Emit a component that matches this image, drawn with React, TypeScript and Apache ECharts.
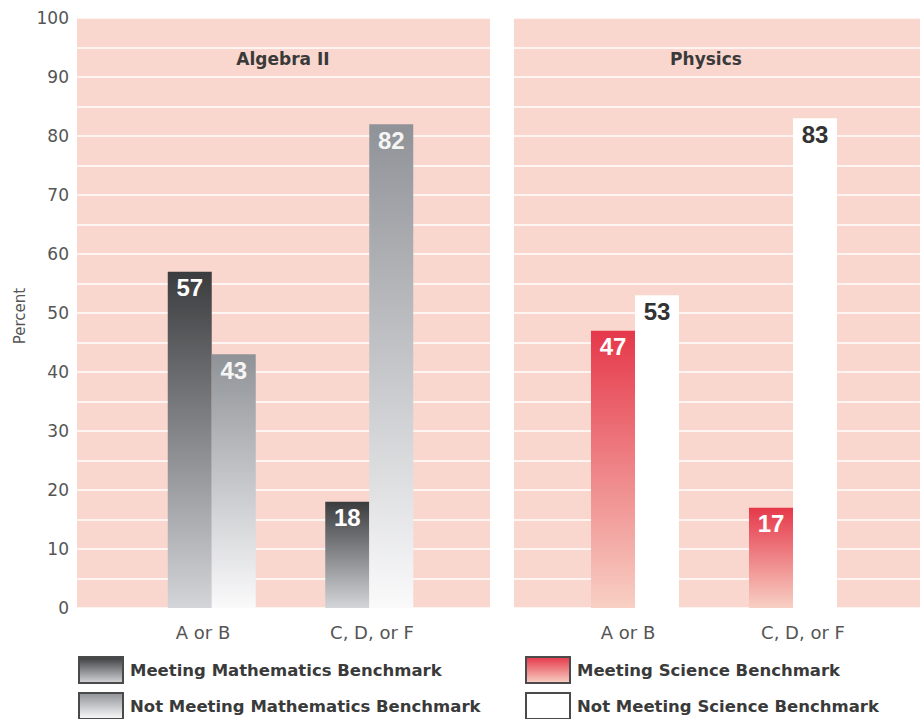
import React, { useEffect, useRef } from "react";
import * as echarts from "echarts";

const categories = ["A or B", "C, D, or F"];
const mathMeeting = [57, 18];
const mathNotMeeting = [43, 82];
const sciMeeting = [47, 17];
const sciNotMeeting = [53, 83];
const panelTitles = ["Algebra II", "Physics"];
const seriesNames = [
  "Meeting Mathematics Benchmark",
  "Not Meeting Mathematics Benchmark",
  "Meeting Science Benchmark",
  "Not Meeting Science Benchmark",
];
const yMin = 0;
const yMax = 100;
const yGridStep = 5;
const yLabelStep = 10;

const FONT = "DejaVu Sans";
const PANEL_BG = "#f9d7ce";

function grad(top: string, bottom: string) {
  return new echarts.graphic.LinearGradient(0, 0, 0, 1, [
    { offset: 0, color: top },
    { offset: 1, color: bottom },
  ]);
}

export default function App() {
  const ref = useRef<HTMLDivElement>(null);
  useEffect(() => {
    if (!ref.current) return;
    const chart = echarts.init(ref.current, null, { renderer: "svg" });

    const bgY = (showLabels: boolean, gridIndex: number) => ({
      type: "value",
      gridIndex,
      min: yMin,
      max: yMax,
      interval: yGridStep,
      axisLine: { show: false },
      axisTick: { show: false },
      splitLine: { show: true, lineStyle: { color: "#ffffff", width: 1.5 } },
      axisLabel: {
        show: showLabels,
        margin: 8,
        fontFamily: FONT,
        fontSize: 17,
        color: "#555555",
        formatter: (v: number) => (v % yLabelStep === 0 ? String(v) : ""),
      },
    });
    const hiddenY = (gridIndex: number) => ({
      type: "value",
      gridIndex,
      min: yMin,
      max: yMax,
      show: false,
    });
    const hiddenX = (gridIndex: number) => ({
      type: "category",
      gridIndex,
      data: categories,
      show: false,
    });
    const labelX = (gridIndex: number) => ({
      type: "category",
      gridIndex,
      data: categories,
      axisLine: { show: false },
      axisTick: { show: false },
      splitLine: { show: false },
      axisLabel: {
        margin: 15,
        fontFamily: FONT,
        fontSize: 18,
        color: "#555555",
      },
    });

    const valueLabel = (color: string) => ({
      show: true,
      position: "insideTop",
      distance: 4,
      fontFamily: "Liberation Sans",
      fontWeight: "bold",
      fontSize: 24,
      color,
    });

    const legendBase = {
      orient: "vertical",
      top: 656,
      height: 90,
      width: 400,
      itemWidth: 44,
      itemHeight: 26,
      itemGap: 8,
      padding: 0,
      icon: "rect",
      selectedMode: false,
      itemStyle: { borderColor: "#4a4a4a", borderWidth: 2 },
      textStyle: {
        fontFamily: FONT,
        fontWeight: "bold",
        fontSize: 16.5,
        color: "#3a3a3a",
        padding: [0, 0, 0, 2],
      },
    };

    chart.setOption({
      animation: false,
      backgroundColor: "#ffffff",
      grid: [
        { left: 77, right: 430, top: 18, bottom: 111, show: true, backgroundColor: PANEL_BG, borderWidth: 0 },
        { left: 514, right: 0, top: 18, bottom: 111, show: true, backgroundColor: PANEL_BG, borderWidth: 0 },
        { left: 133, right: 472, top: 18, bottom: 111 },
        { left: 556, right: 48, top: 18, bottom: 111 },
        { left: 118.5, right: 463.5, top: 18, bottom: 111 },
        { left: 540.5, right: 29.5, top: 18, bottom: 111 },
      ],
      xAxis: [hiddenX(0), hiddenX(1), hiddenX(2), hiddenX(3), labelX(4), labelX(5)],
      yAxis: [bgY(true, 0), bgY(false, 1), hiddenY(2), hiddenY(3), hiddenY(4), hiddenY(5)],
      legend: [
        { ...legendBase, left: 78, data: [seriesNames[0], seriesNames[1]] },
        { ...legendBase, left: 525, data: [seriesNames[2], seriesNames[3]] },
      ],
      graphic: [
        {
          type: "text",
          x: 283,
          y: 59,
          style: {
            text: panelTitles[0],
            fontFamily: FONT,
            fontWeight: "bold",
            fontSize: 17,
            fill: "#3a3a3a",
            textAlign: "center",
            textVerticalAlign: "middle",
          },
        },
        {
          type: "text",
          x: 706,
          y: 59,
          style: {
            text: panelTitles[1],
            fontFamily: FONT,
            fontWeight: "bold",
            fontSize: 17,
            fill: "#3a3a3a",
            textAlign: "center",
            textVerticalAlign: "middle",
          },
        },
        {
          type: "text",
          x: 20,
          y: 316,
          rotation: Math.PI / 2,
          style: {
            text: "Percent",
            fontFamily: FONT,
            fontSize: 15,
            fill: "#555555",
            textAlign: "center",
            textVerticalAlign: "middle",
          },
        },
      ],
      series: [
        {
          name: seriesNames[0],
          type: "bar",
          xAxisIndex: 2,
          yAxisIndex: 2,
          data: mathMeeting,
          barWidth: 44,
          barGap: "0%",
          itemStyle: { color: grad("#3b3c3e", "#d3d5d9") },
          label: valueLabel("#ffffff"),
        },
        {
          name: seriesNames[1],
          type: "bar",
          xAxisIndex: 2,
          yAxisIndex: 2,
          data: mathNotMeeting,
          barWidth: 44,
          barGap: "0%",
          itemStyle: { color: grad("#8f9297", "#fafafb") },
          label: valueLabel("#f5f5f5"),
        },
        {
          name: seriesNames[2],
          type: "bar",
          xAxisIndex: 3,
          yAxisIndex: 3,
          data: sciMeeting,
          barWidth: 44,
          barGap: "0%",
          itemStyle: { color: grad("#e5384a", "#f8d0c4") },
          label: valueLabel("#ffffff"),
        },
        {
          name: seriesNames[3],
          type: "bar",
          xAxisIndex: 3,
          yAxisIndex: 3,
          data: sciNotMeeting,
          barWidth: 44,
          barGap: "0%",
          itemStyle: { color: "#ffffff" },
          label: valueLabel("#333333"),
        },
      ],
    });
    return () => chart.dispose();
  }, []);
  return (
    <div
      ref={ref}
      style={{ position: "fixed", left: 0, top: 0, width: 920, height: 719 }}
    />
  );
}
